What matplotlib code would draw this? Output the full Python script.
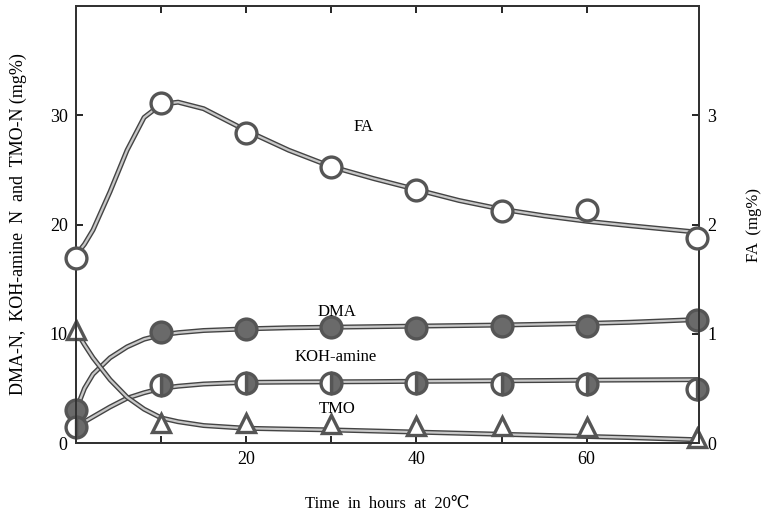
import matplotlib
matplotlib.use('Agg')
import matplotlib.pyplot as plt
import numpy as np

matplotlib.rcParams['font.family'] = ['Liberation Serif', 'DejaVu Serif']

# sampling times (hours) and measured values
hours = [0, 10, 20, 30, 40, 50, 60, 73]
fa = [1.69, 3.11, 2.84, 2.53, 2.32, 2.12, 2.13, 1.88]          # right axis, mg%
dma = [3.0, 10.2, 10.4, 10.6, 10.5, 10.7, 10.7, 11.3]           # left axis, mg%
koh = [1.5, 5.3, 5.5, 5.5, 5.5, 5.4, 5.4, 4.9]
tmo = [10.3, 1.8, 1.8, 1.7, 1.6, 1.6, 1.5, 0.5]

# hand-drawn fitted curves
curve_h = [0, 1, 2, 4, 6, 8, 10, 12, 15, 20, 25, 30, 35, 40, 45, 50, 55, 60, 65, 73]
fa_curve = [1.72, 1.82, 1.95, 2.3, 2.68, 2.98, 3.1, 3.12, 3.06, 2.86, 2.68, 2.53, 2.42,
            2.32, 2.22, 2.14, 2.08, 2.03, 1.99, 1.93]
dma_curve = [3.0, 5.0, 6.3, 7.8, 8.8, 9.5, 9.9, 10.1, 10.3, 10.45, 10.55, 10.6, 10.65,
             10.7, 10.75, 10.8, 10.87, 10.95, 11.05, 11.3]
koh_curve = [1.5, 1.95, 2.4, 3.3, 4.1, 4.6, 5.0, 5.2, 5.4, 5.55, 5.58, 5.6, 5.62,
             5.65, 5.67, 5.7, 5.72, 5.75, 5.77, 5.8]
tmo_curve = [10.3, 9.0, 7.8, 5.8, 4.2, 3.1, 2.3, 1.95, 1.6, 1.35, 1.27, 1.2, 1.1,
             1.0, 0.9, 0.8, 0.7, 0.6, 0.5, 0.3]


def gray_line(ax, x, y):
    ax.plot(x, y, color='#444444', lw=3.6, solid_capstyle='round', zorder=2)
    ax.plot(x, y, color='#c8c8c8', lw=1.6, solid_capstyle='round', zorder=2)


fig = plt.figure(figsize=(7.66, 5.19), dpi=100)
ax = fig.add_axes([0.0992, 0.1464, 0.8133, 0.8420])
ax2 = ax.twinx()

gray_line(ax, curve_h, dma_curve)
gray_line(ax, curve_h, koh_curve)
gray_line(ax, curve_h, tmo_curve)
gray_line(ax2, curve_h, fa_curve)

mk = dict(markersize=15, markeredgewidth=2.4, markeredgecolor='#555555', linestyle='none',
          zorder=3, clip_on=False)
ax.plot(hours, dma, marker='o', markerfacecolor='#6a6a6a', **mk)
ax.plot(hours, koh, marker='o', fillstyle='right', markerfacecolor='#6a6a6a',
        markerfacecoloralt='white', **mk)
ax.plot(hours, tmo, marker='^', markerfacecolor='white', **dict(mk, markersize=13))
ax2.plot(hours, fa, marker='o', markerfacecolor='white', **mk)

ax.set_xlim(0, 73.2)
ax.set_ylim(0, 40)
ax2.set_ylim(0, 4.0)

ax.set_xticks([10, 20, 30, 40, 50, 60])
ax.set_xticklabels(['', '20', '', '40', '', '60'])
ax.set_yticks([0, 10, 20, 30])
ax2.set_yticks([0, 1, 2, 3])
ax.tick_params(axis='both', direction='in', length=5, width=1.2, labelsize=13,
               top=True, pad=6)
ax2.tick_params(axis='y', direction='in', length=5, width=1.2, labelsize=13, pad=6)
for a in (ax, ax2):
    for s in a.spines.values():
        s.set_linewidth(1.4)
        s.set_color('#333333')

ax.text(32.6, 28.9, 'FA', fontsize=12, ha='left', va='center')
ax.text(30.7, 12.0, 'DMA', fontsize=12, ha='center', va='center')
ax.text(30.5, 7.9, 'KOH-amine', fontsize=12, ha='center', va='center')
ax.text(30.7, 3.1, 'TMO', fontsize=12, ha='center', va='center')

ax.set_xlabel('Time  in  hours  at  20\u2103', fontsize=12, labelpad=20)
ax.set_ylabel('DMA-N,  KOH-amine  N  and  TMO-N (mg%)', fontsize=13, labelpad=16)
ax2.set_ylabel('FA  (mg%)', fontsize=12, labelpad=21)

fig.savefig('out.png', dpi=100)
